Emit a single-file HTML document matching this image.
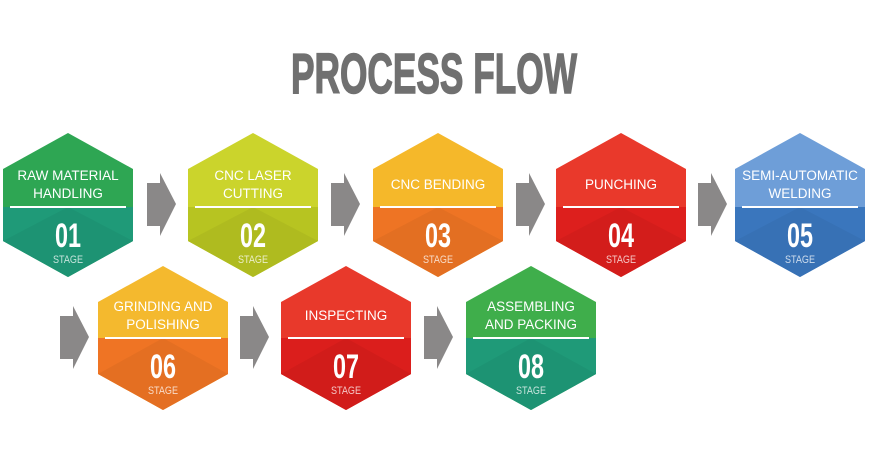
<!DOCTYPE html>
<html><head><meta charset="utf-8"><style>
html,body{margin:0;padding:0;background:#fff;width:870px;height:450px;overflow:hidden}
text{font-family:"Liberation Sans",sans-serif;fill:#fff}
</style></head><body>
<svg width="870" height="450" viewBox="0 0 870 450" xmlns="http://www.w3.org/2000/svg">
<text x="291" y="93" font-size="57" font-weight="bold" textLength="286" lengthAdjust="spacingAndGlyphs" style="fill:#707070;stroke:#707070;stroke-width:1.5">PROCESS FLOW</text>
<g fill="#8a8888">
<polygon points="147,183 160,183 160,173 176,204 160,236 160,226 147,226"/>
<polygon points="331,183 344,183 344,173 360,204 344,236 344,226 331,226"/>
<polygon points="516,183 529,183 529,173 545,204 529,236 529,226 516,226"/>
<polygon points="698,183 711,183 711,173 727,204 711,236 711,226 698,226"/>
<polygon points="60,316 73,316 73,306 89,337 73,369 73,359 60,359"/>
<polygon points="240,316 253,316 253,306 269,337 253,369 253,359 240,359"/>
<polygon points="424,316 437,316 437,306 453,337 437,369 437,359 424,359"/>
</g>
<g id="hexes"></g>
</svg>
<script>
var H=[
[68,205,"#2ea653","#1f9a78",["RAW MATERIAL","HANDLING"],"01"],
[253,205,"#cbd42c","#b7c421",["CNC LASER","CUTTING"],"02"],
[438,205,"#f5b82a","#ee7424",["CNC BENDING"],"03"],
[621,205,"#e9392b","#dd1f1d",["PUNCHING"],"04"],
[800,205,"#6e9ed8","#3a76bd",["SEMI-AUTOMATIC","WELDING"],"05"],
[163,338,"#f4b92e","#ef7424",["GRINDING AND","POLISHING"],"06"],
[346,338,"#e8392b","#db1e1c",["INSPECTING"],"07"],
[531,338,"#3fae4b","#1f9a78",["ASSEMBLING","AND PACKING"],"08"]];
var s="";
H.forEach(function(h){var x=h[0],y=h[1],t=h[2],b=h[3];
var ty=(y>300)?y-2:y;
s+='<polygon points="'+x+','+(y-72)+' '+(x+65)+','+(y-36)+' '+(x+65)+','+(y+36)+' '+x+','+(y+72)+' '+(x-65)+','+(y+36)+' '+(x-65)+','+(y-36)+'" fill="'+t+'"/>';
s+='<polygon points="'+(x-65)+','+(ty+2)+' '+(x+65)+','+(ty+2)+' '+(x+65)+','+(y+36)+' '+x+','+(y+72)+' '+(x-65)+','+(y+36)+'" fill="'+b+'"/>';
s+='<polygon points="'+(x-65)+','+(y+36)+' '+x+','+(ty+2)+' '+(x+65)+','+(y+36)+' '+x+','+(y+72)+'" fill="'+b+'" opacity="0.6" style="filter:brightness(0.93)"/>';
s+='<rect x="'+(x-58)+'" y="'+(ty+1)+'" width="116" height="2" fill="#fff"/>';
var L=h[4];
if(L.length==2){s+='<text x="'+x+'" y="'+(ty-25)+'" font-size="13.5" text-anchor="middle">'+L[0]+'</text><text x="'+x+'" y="'+(ty-7)+'" font-size="13.5" text-anchor="middle">'+L[1]+'</text>';}
else s+='<text x="'+x+'" y="'+(ty-16)+'" font-size="13.5" text-anchor="middle">'+L[0]+'</text>';
s+='<text x="'+(x-13)+'" y="'+(ty+42)+'" font-size="34" font-weight="bold" textLength="26" lengthAdjust="spacingAndGlyphs">'+h[5]+'</text>';
s+='<text x="'+(x-15)+'" y="'+(ty+58)+'" font-size="11" textLength="30" lengthAdjust="spacingAndGlyphs" style="fill:rgba(255,255,255,0.75)">STAGE</text>';
});
document.getElementById("hexes").innerHTML=s;
</script>
</body></html>
